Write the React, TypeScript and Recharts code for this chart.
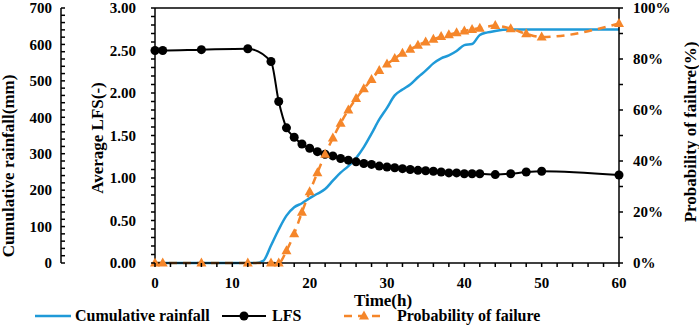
import { LineChart, Line, XAxis, YAxis, ReferenceLine } from 'recharts'

const rainHours = [0, 2, 4, 6, 8, 10, 12, 13, 14, 15, 16, 17, 18, 19, 20, 21, 22, 23, 24, 25, 26, 27, 28, 29, 30, 31, 32, 33, 34, 35, 36, 37, 38, 39, 40, 41, 42, 43, 44, 45, 46, 50, 55, 60]
const rainMm = [0, 0, 0, 0, 0, 0, 0, 0, 6, 48, 92, 130, 153, 164, 178, 190, 203, 226, 248, 266, 288, 318, 355, 394, 426, 460, 476, 490, 510, 528, 548, 562, 570, 582, 598, 601, 626, 633, 637, 640, 641, 641, 641, 641]

const lfsHours = [0, 1, 6, 12, 15, 16, 17, 18, 19, 20, 21, 22, 23, 24, 25, 26, 27, 28, 29, 30, 31, 32, 33, 34, 35, 36, 37, 38, 39, 40, 41, 42, 44, 46, 48, 50, 60]
const lfsValues = [2.5, 2.5, 2.51, 2.52, 2.37, 1.9, 1.59, 1.48, 1.4, 1.35, 1.31, 1.28, 1.26, 1.23, 1.21, 1.19, 1.17, 1.16, 1.14, 1.13, 1.12, 1.11, 1.1, 1.09, 1.085, 1.08, 1.07, 1.06, 1.06, 1.05, 1.05, 1.05, 1.04, 1.05, 1.07, 1.08, 1.035]

const pofHours = lfsHours
const pofValues = [0, 0, 0, 0, 0, 0, 4.8, 11.5, 19.9, 27.9, 35.4, 42.6, 49, 54.8, 60, 64.5, 68.3, 72, 75.5, 78, 80.2, 82.3, 83.8, 85.4, 86.7, 87.7, 88.8, 89.5, 90.3, 91, 91.6, 92.1, 93.1, 91.9, 89.9, 88.6, 93.9]

const xTicks = [0, 2, 4, 6, 8, 10, 12, 14, 16, 18, 20, 22, 24, 26, 28, 30, 32, 34, 36, 38, 40, 42, 44, 46, 48, 50, 52, 54, 56, 58, 60]
const rainTicks = [0, 20, 40, 60, 80, 100, 120, 140, 160, 180, 200, 220, 240, 260, 280, 300, 320, 340, 360, 380, 400, 420, 440, 460, 480, 500, 520, 540, 560, 580, 600, 620, 640, 660, 680, 700]
const lfsTicks = [0, 0.1, 0.2, 0.3, 0.4, 0.5, 0.6, 0.7, 0.8, 0.9, 1, 1.1, 1.2, 1.3, 1.4, 1.5, 1.6, 1.7, 1.8, 1.9, 2, 2.1, 2.2, 2.3, 2.4, 2.5, 2.6, 2.7, 2.8, 2.9, 3]
const pofTicks = [0, 10, 20, 30, 40, 50, 60, 70, 80, 90, 100]

const rainData = rainHours.map((t, i) => ({ t, v: rainMm[i] }))
const lfsData = lfsHours.map((t, i) => ({ t, v: lfsValues[i] }))
const pofData = pofHours.map((t, i) => ({ t, v: pofValues[i] }))

const BLUE = '#1f9ad8'
const ORANGE = '#f5862a'
const FONT = '"Liberation Serif", "Times New Roman", serif'
const textStyle = { fill: '#000', fontSize: 15, fontWeight: 'bold' as const, fontFamily: FONT }
const axisStroke = { stroke: '#000', strokeWidth: 1.5 }

// tick renderer: draws its own tick mark plus the label (blank for minor ticks)
function makeTick(side: 'bottom' | 'left' | 'right', size: number, margin: number, inward: boolean, fmt: (v: number) => string) {
  return (p: any) => {
    const label = fmt(p.payload.value)
    if (side === 'bottom') {
      const ay = p.y - size - margin
      return (
        <g>
          <line x1={p.x} y1={ay} x2={p.x} y2={ay + 4} stroke="#000" strokeWidth={1.5} />
          {label && <text x={p.x} y={p.y} dy="0.71em" textAnchor="middle" style={textStyle}>{label}</text>}
        </g>
      )
    }
    if (side === 'left') {
      const ax = p.x + size + margin
      const x2 = inward ? ax + 4 : ax - 4
      return (
        <g>
          <line x1={ax} y1={p.y} x2={x2} y2={p.y} stroke="#000" strokeWidth={1.5} />
          {label && <text x={p.x} y={p.y} dy="0.355em" textAnchor="end" style={textStyle}>{label}</text>}
        </g>
      )
    }
    const ax = p.x - size - margin
    return (
      <g>
        <line x1={ax} y1={p.y} x2={ax + 4} y2={p.y} stroke="#000" strokeWidth={1.5} />
        {label && <text x={p.x} y={p.y} dy="0.355em" textAnchor="start" style={textStyle}>{label}</text>}
      </g>
    )
  }
}

function Triangle(props: any) {
  const { cx, cy, index } = props
  if (cx == null || cy == null) return <g key={index} />
  return <polygon key={index} points={`${cx},${cy - 5.5} ${cx + 5},${cy + 3.5} ${cx - 5},${cy + 3.5}`} fill={ORANGE} />
}

function VTitle({ x, y, text }: { x: number; y: number; text: string }) {
  return (
    <text x={x} y={y} transform={`rotate(-90 ${x} ${y})`} textAnchor="middle" dominantBaseline="central"
      style={{ fontSize: 17, fontWeight: 'bold', fontFamily: FONT, fill: '#000' }}>
      {text}
    </text>
  )
}

function ChartLegend() {
  const item = { display: 'flex', alignItems: 'center', position: 'absolute' as const, top: 0, height: 20 }
  return (
    <div style={{ position: 'absolute', left: 0, top: 306, width: 699, height: 20, fontFamily: FONT, fontWeight: 'bold', fontSize: 16, color: '#000', lineHeight: '20px' }}>
      <div style={{ ...item, left: 35 }}>
        <svg width={36} height={20}><line x1={0} y1={10} x2={36} y2={10} stroke={BLUE} strokeWidth={2.5} /></svg>
        <span style={{ marginLeft: 4 }}>Cumulative rainfall</span>
      </div>
      <div style={{ ...item, left: 222 }}>
        <svg width={44} height={20}>
          <line x1={0} y1={10} x2={44} y2={10} stroke="#000" strokeWidth={2} />
          <circle cx={22} cy={10} r={4.5} fill="#000" />
        </svg>
        <span style={{ marginLeft: 6 }}>LFS</span>
      </div>
      <div style={{ ...item, left: 344 }}>
        <svg width={42} height={20}>
          <line x1={0} y1={10} x2={42} y2={10} stroke={ORANGE} strokeWidth={2.5} strokeDasharray="8 6" />
          <polygon points="20,4.5 25,13.5 15,13.5" fill={ORANGE} />
        </svg>
        <span style={{ marginLeft: 11 }}>Probability of failure</span>
      </div>
    </div>
  )
}

export default function App() {
  return (
    <div style={{ position: 'absolute', left: 0, top: 0, width: 699, height: 326, background: '#fff' }}>
      <LineChart width={699} height={326} margin={{ top: 8, right: 0, bottom: 23, left: 0 }} style={{ fontFamily: FONT }}>
        <XAxis
          type="number"
          dataKey="t"
          domain={[0, 60]}
          ticks={xTicks}
          interval={0}
          height={40}
          tickSize={4}
          tickMargin={10}
          tick={makeTick('bottom', 4, 10, false, (v) => (v % 10 === 0 ? String(v) : ''))}
          axisLine={axisStroke}
          tickLine={false}
          xAxisId="x"
          label={{ content: () => <text x={383} y={300} textAnchor="middle" dominantBaseline="central" style={{ fontSize: 17, fontWeight: 'bold', fontFamily: FONT, fill: '#000' }}>Time(h)</text> }}
        />
        <YAxis
          yAxisId="lfs"
          orientation="left"
          width={94}
          domain={[0, 3]}
          ticks={lfsTicks}
          interval={0}
          tickSize={4}
          tickMargin={15}
          tick={makeTick('left', 4, 15, false, (v) => (Math.round(v * 10) % 5 === 0 ? v.toFixed(2) : ''))}
          axisLine={axisStroke}
          tickLine={false}
          label={{ content: () => <VTitle x={97} y={138} text="Average LFS(-)" /> }}
        />
        <YAxis
          yAxisId="rain"
          orientation="left"
          width={61}
          domain={[0, 700]}
          ticks={rainTicks}
          interval={0}
          tickSize={4}
          tickMargin={5}
          tick={makeTick('left', 4, 5, true, (v) => (v % 100 === 0 ? String(v) : ''))}
          axisLine={axisStroke}
          tickLine={false}
          label={{ content: () => <VTitle x={8} y={166} text="Cumulative rainfall(mm)" /> }}
        />
        <YAxis
          yAxisId="pof"
          orientation="right"
          width={80}
          domain={[0, 100]}
          ticks={pofTicks}
          interval={0}
          tickSize={4}
          tickMargin={10}
          tick={makeTick('right', 4, 10, false, (v) => (v % 20 === 0 ? `${v}%` : ''))}
          axisLine={axisStroke}
          tickLine={false}
          label={{ content: () => <VTitle x={690} y={132} text="Probability of failure(%)" /> }}
        />
        <ReferenceLine y={3} yAxisId="lfs" xAxisId="x" stroke="#000" strokeWidth={1.5} />
        <Line
          data={rainData}
          dataKey="v"
          xAxisId="x"
          yAxisId="rain"
          type="monotone"
          stroke={BLUE}
          strokeWidth={2.5}
          dot={false}
          activeDot={false}
          isAnimationActive={false}
        />
        <Line
          data={lfsData}
          dataKey="v"
          xAxisId="x"
          yAxisId="lfs"
          type="monotone"
          stroke="#000"
          strokeWidth={2}
          dot={{ r: 4.5, fill: '#000', stroke: '#000', strokeWidth: 0 }}
          activeDot={false}
          isAnimationActive={false}
        />
        <Line
          data={pofData}
          dataKey="v"
          xAxisId="x"
          yAxisId="pof"
          type="monotone"
          stroke={ORANGE}
          strokeWidth={2.5}
          strokeDasharray="8 6"
          dot={(p: any) => <Triangle {...p} />}
          activeDot={false}
          isAnimationActive={false}
        />
      </LineChart>
      <ChartLegend />
    </div>
  )
}
